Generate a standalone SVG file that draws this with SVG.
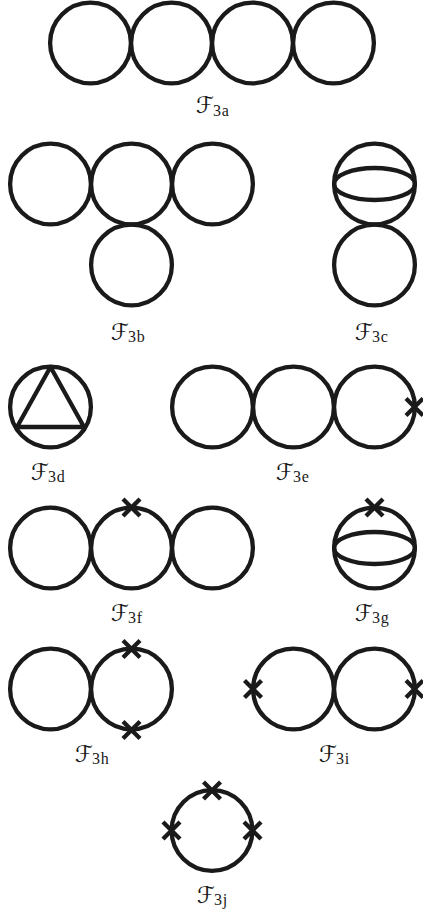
<svg xmlns="http://www.w3.org/2000/svg" xmlns:xlink="http://www.w3.org/1999/xlink" width="423" height="910" viewBox="0 0 423 910">
<style>
.l{fill:none;stroke:#1a1a1a;stroke-width:4.3;stroke-linejoin:round}
.f{font-family:"DejaVu Sans","Noto Sans",sans-serif;font-size:23px;fill:#1a1a1a}
.s{font-family:"Liberation Serif",serif;font-size:16px;letter-spacing:.8px;fill:#1a1a1a}
</style>
<defs>
<circle id="c" class="l" r="40.4"/>
<ellipse id="e" class="l" rx="40.4" ry="16"/>
<path id="x" class="l" d="M-8.500-8.500L8.500 8.500M-8.500 8.500L8.500-8.500"/>
</defs>
<rect width="423" height="910" fill="#fff"/>
<g id="F3a"><use xlink:href="#c" x="90.5" y="43"/><use xlink:href="#c" x="171.5" y="43"/><use xlink:href="#c" x="252.5" y="43"/><use xlink:href="#c" x="333.5" y="43"/><text x="196" y="113" class="f">ℱ</text><text x="213" y="116" class="s">3a</text></g>
<g id="F3b"><use xlink:href="#c" x="50.5" y="184"/><use xlink:href="#c" x="131.5" y="184"/><use xlink:href="#c" x="212.5" y="184"/><use xlink:href="#c" x="131.5" y="265"/><text x="111" y="340" class="f">ℱ</text><text x="128" y="342" class="s">3b</text></g>
<g id="F3c"><use xlink:href="#c" x="374.5" y="184"/><use xlink:href="#e" x="374.5" y="184"/><use xlink:href="#c" x="374.5" y="265"/><text x="355" y="340" class="f">ℱ</text><text x="372" y="342" class="s">3c</text></g>
<g id="F3d"><use xlink:href="#c" x="50.5" y="407"/><path class="l" d="M50.5 367L17 427H84Z"/><text x="31" y="480" class="f">ℱ</text><text x="48" y="482" class="s">3d</text></g>
<g id="F3e"><use xlink:href="#c" x="212.500" y="407"/><use xlink:href="#c" x="293.500" y="407"/><use xlink:href="#c" x="374.500" y="407"/><use xlink:href="#x" x="414.500" y="407"/><text x="276" y="480" class="f">ℱ</text><text x="293" y="482" class="s">3e</text></g>
<g id="F3f"><use xlink:href="#c" x="50.5" y="548"/><use xlink:href="#c" x="131.5" y="548"/><use xlink:href="#c" x="212.5" y="548"/><use xlink:href="#x" x="131.5" y="507.500"/><text x="111" y="621" class="f">ℱ</text><text x="128" y="623" class="s">3f</text></g>
<g id="F3g"><use xlink:href="#c" x="374.5" y="548"/><use xlink:href="#e" x="374.5" y="548"/><use xlink:href="#x" x="374.5" y="507.500"/><text x="355" y="621" class="f">ℱ</text><text x="372" y="623" class="s">3g</text></g>
<g id="F3h"><use xlink:href="#c" x="50.5" y="689"/><use xlink:href="#c" x="131.5" y="689"/><use xlink:href="#x" x="131.5" y="649"/><use xlink:href="#x" x="131.5" y="730"/><text x="75" y="762" class="f">ℱ</text><text x="92" y="764" class="s">3h</text></g>
<g id="F3i"><use xlink:href="#c" x="293.5" y="689"/><use xlink:href="#c" x="374.5" y="689"/><use xlink:href="#x" x="253" y="689"/><use xlink:href="#x" x="414.500" y="689"/><text x="319" y="762" class="f">ℱ</text><text x="336" y="764" class="s">3i</text></g>
<g id="F3j"><use xlink:href="#c" x="212" y="830.500"/><use xlink:href="#x" x="212" y="790.500"/><use xlink:href="#x" x="171.500" y="830.500"/><use xlink:href="#x" x="252.500" y="830.500"/><text x="197" y="903" class="f">ℱ</text><text x="214" y="905" class="s">3j</text></g>
</svg>
